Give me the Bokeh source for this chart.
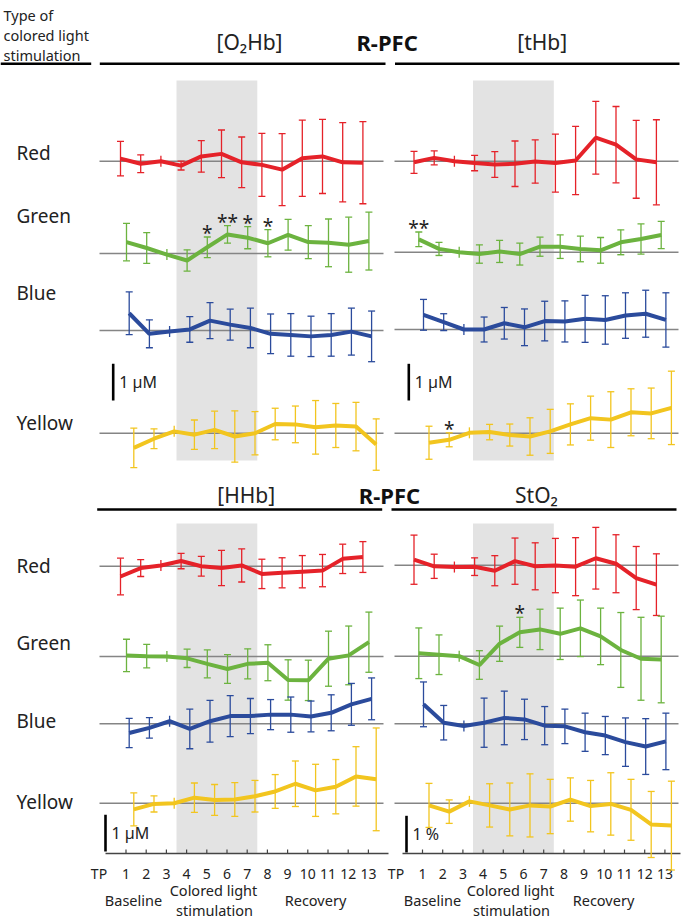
import numpy as np
from bokeh.plotting import figure
from bokeh.models import Range1d, ColumnDataSource, Whisker, TeeHead
from bokeh.core.properties import value
from bokeh.embed import file_html
from bokeh.resources import INLINE

# ---------------- data ----------------
tp = list(range(1, 14))
series_names = ["Red", "Green", "Blue", "Yellow"]
tick_labels = [str(t) for t in tp]

# [O2Hb] (uM)
o2hb_red = [0.07, -0.07, 0.00, -0.12, 0.13, 0.20, -0.03, -0.10, -0.23, 0.08, 0.13, -0.03, -0.04]
o2hb_red_se = [0.47, 0.24, 0.00, 0.12, 0.43, 0.65, 0.69, 0.86, 0.98, 1.04, 1.01, 1.08, 1.12]
o2hb_green = [0.31, 0.15, -0.03, -0.19, 0.17, 0.52, 0.43, 0.28, 0.51, 0.31, 0.29, 0.24, 0.34]
o2hb_green_se = [0.51, 0.42, 0.00, 0.29, 0.28, 0.24, 0.30, 0.37, 0.42, 0.45, 0.65, 0.75, 0.79]
o2hb_blue = [0.47, -0.09, -0.03, 0.03, 0.27, 0.16, 0.07, -0.09, -0.12, -0.16, -0.12, -0.03, -0.16]
o2hb_blue_se = [0.58, 0.38, 0.00, 0.35, 0.49, 0.42, 0.54, 0.54, 0.58, 0.55, 0.58, 0.64, 0.69]
o2hb_yellow = [-0.40, -0.15, 0.05, -0.04, 0.09, -0.09, 0.00, 0.25, 0.24, 0.16, 0.21, 0.18, -0.31]
o2hb_yellow_se = [0.54, 0.27, 0.00, 0.40, 0.51, 0.70, 0.59, 0.43, 0.50, 0.73, 0.60, 0.66, 0.70]

# [tHb] (uM)
thb_red = [-0.03, 0.09, 0.00, -0.05, -0.09, -0.07, -0.01, -0.05, 0.02, 0.64, 0.45, 0.05, -0.03]
thb_red_se = [0.30, 0.19, 0.00, 0.21, 0.35, 0.62, 0.59, 0.79, 0.93, 0.99, 1.04, 1.06, 1.16]
thb_green = [0.35, 0.09, 0.00, -0.05, 0.02, -0.05, 0.15, 0.15, 0.09, 0.05, 0.27, 0.36, 0.47]
thb_green_se = [0.20, 0.18, 0.00, 0.25, 0.30, 0.30, 0.26, 0.32, 0.35, 0.35, 0.34, 0.41, 0.37]
thb_blue = [0.40, 0.20, 0.00, 0.00, 0.17, 0.06, 0.23, 0.22, 0.29, 0.26, 0.38, 0.43, 0.26]
thb_blue_se = [0.42, 0.23, 0.00, 0.34, 0.43, 0.50, 0.54, 0.56, 0.64, 0.66, 0.62, 0.64, 0.74]
thb_yellow = [-0.26, -0.18, 0.01, 0.03, -0.05, -0.09, 0.05, 0.24, 0.41, 0.37, 0.57, 0.54, 0.69]
thb_yellow_se = [0.45, 0.19, 0.00, 0.21, 0.30, 0.51, 0.60, 0.56, 0.60, 0.76, 0.64, 0.69, 1.00]

# [HHb] (uM)
hhb_red = [-0.28, -0.05, 0.02, 0.14, 0.00, -0.05, 0.02, -0.21, -0.18, -0.15, -0.12, 0.20, 0.25]
hhb_red_se = [0.50, 0.23, 0.00, 0.21, 0.27, 0.48, 0.45, 0.40, 0.41, 0.44, 0.44, 0.40, 0.42]
hhb_green = [0.03, 0.01, 0.00, -0.05, -0.20, -0.34, -0.20, -0.17, -0.64, -0.65, -0.06, 0.03, 0.39]
hhb_green_se = [0.44, 0.32, 0.00, 0.25, 0.38, 0.39, 0.41, 0.49, 0.55, 0.55, 0.75, 0.80, 0.82]
hhb_blue = [-0.25, -0.11, 0.07, -0.14, 0.07, 0.21, 0.21, 0.25, 0.25, 0.20, 0.30, 0.53, 0.68]
hhb_blue_se = [0.40, 0.28, 0.00, 0.54, 0.57, 0.56, 0.48, 0.41, 0.48, 0.42, 0.49, 0.57, 0.57]
hhb_yellow = [-0.17, -0.02, 0.00, 0.15, 0.09, 0.10, 0.19, 0.32, 0.53, 0.35, 0.45, 0.73, 0.65]
hhb_yellow_se = [0.45, 0.22, 0.00, 0.40, 0.42, 0.46, 0.43, 0.46, 0.62, 0.71, 0.74, 0.81, 1.40]

# StO2 (%)
sto2_red = [0.15, -0.03, -0.05, -0.04, -0.15, 0.11, -0.03, -0.01, -0.04, 0.19, 0.04, -0.35, -0.53]
sto2_red_se = [0.67, 0.33, 0.00, 0.24, 0.41, 0.63, 0.64, 0.74, 0.79, 0.84, 0.79, 0.86, 0.84]
sto2_green = [0.08, 0.04, 0.00, -0.24, 0.34, 0.65, 0.73, 0.61, 0.76, 0.54, 0.17, -0.07, -0.09]
sto2_green_se = [0.69, 0.54, 0.00, 0.39, 0.48, 0.41, 0.55, 0.70, 0.77, 0.77, 1.02, 1.13, 1.18]
sto2_blue = [0.53, 0.03, -0.06, 0.03, 0.16, 0.12, -0.05, -0.07, -0.23, -0.32, -0.50, -0.62, -0.48]
sto2_blue_se = [0.61, 0.47, 0.00, 0.67, 0.73, 0.55, 0.52, 0.47, 0.52, 0.52, 0.66, 0.76, 0.77]
sto2_yellow = [-0.06, -0.23, 0.05, -0.06, -0.17, -0.06, -0.09, 0.10, -0.08, -0.02, -0.18, -0.58, -0.61]
sto2_yellow_se = [0.60, 0.32, 0.00, 0.59, 0.72, 0.86, 0.74, 0.59, 0.70, 0.85, 0.83, 0.90, 1.21]

# significance marks: (panel, series, time point, label)
sig_panel = ["O2Hb", "O2Hb", "O2Hb", "O2Hb", "tHb", "tHb", "StO2"]
sig_series = ["Green", "Green", "Green", "Green", "Green", "Yellow", "Green"]
sig_tp = [5, 6, 7, 8, 1, 2, 6]
sig_text = ["*", "**", "*", "*", "**", "*", "*"]

panel_titles = ["[O₂Hb]", "[tHb]", "[HHb]", "StO₂"]
scale_labels = ["1 µM", "1 µM", "1 µM", "1 %"]
phase_labels = ["Baseline", "Colored light", "stimulation", "Recovery"]

# ---------------- layout / style ----------------
W, H = 685, 922
OX, OY = 0, 0
PX_PER_TP = 20.2
PX_PER_UNIT = 36.7
FONT = value("Noto Sans")
colors = {"Red": "#e52229", "Green": "#6cb33f", "Blue": "#2b4b9c", "Yellow": "#f2c51f"}

panels = ["O2Hb", "tHb", "HHb", "StO2"]
panel_row = [0, 0, 1, 1]
panel_col = [0, 1, 0, 1]
axis_tp1_px = [125.5, 422.0]
series_tp1_px = [[120.0, 126.0, 128.7, 133.3], [413.5, 418.3, 423.0, 428.5]]
zero_px = {
    "O2Hb": [160.7, 253.0, 330.0, 432.7],
    "tHb": [160.7, 251.7, 329.0, 432.7],
    "HHb": [565.7, 656.0, 723.3, 802.7],
    "StO2": [564.7, 655.7, 723.3, 802.7],
}
zero_line_x = [(99, 383), (394, 678)]
band_y = [(80, 460), (523, 853)]
bar_x = {"O2Hb": 112.7, "tHb": 408.3, "HHb": 105.0, "StO2": 406.0}
bar_zero_px = {"O2Hb": 400.0, "tHb": 400.0, "HHb": 851.0, "StO2": 852.0}
AX_Y = 853
axis_x = [(105, 388), (402, 680)]

data = {
    ("O2Hb", "Red"): (o2hb_red, o2hb_red_se), ("O2Hb", "Green"): (o2hb_green, o2hb_green_se),
    ("O2Hb", "Blue"): (o2hb_blue, o2hb_blue_se), ("O2Hb", "Yellow"): (o2hb_yellow, o2hb_yellow_se),
    ("tHb", "Red"): (thb_red, thb_red_se), ("tHb", "Green"): (thb_green, thb_green_se),
    ("tHb", "Blue"): (thb_blue, thb_blue_se), ("tHb", "Yellow"): (thb_yellow, thb_yellow_se),
    ("HHb", "Red"): (hhb_red, hhb_red_se), ("HHb", "Green"): (hhb_green, hhb_green_se),
    ("HHb", "Blue"): (hhb_blue, hhb_blue_se), ("HHb", "Yellow"): (hhb_yellow, hhb_yellow_se),
    ("StO2", "Red"): (sto2_red, sto2_red_se), ("StO2", "Green"): (sto2_green, sto2_green_se),
    ("StO2", "Blue"): (sto2_blue, sto2_blue_se), ("StO2", "Yellow"): (sto2_yellow, sto2_yellow_se),
}


def x_range_for(tp1_px):
    start = 1 - (tp1_px - OX) / PX_PER_TP
    return Range1d(start, start + W / PX_PER_TP)


def y_range_for(zpx):
    return Range1d(-(OY + H - zpx) / PX_PER_UNIT, (zpx - OY) / PX_PER_UNIT)


p = figure(width=W, height=H, x_range=Range1d(OX, OX + W), y_range=Range1d(OY + H, OY),
           output_backend="svg", toolbar_location=None, min_border=0,
           x_axis_location=None, y_axis_location=None, outline_line_color=None,
           background_fill_color="white", border_fill_color="white")
p.xgrid.visible = False
p.ygrid.visible = False

xr = {}
yr = {}
for c in range(2):
    xr[f"ax{c}"] = x_range_for(axis_tp1_px[c])
    for si, s in enumerate(series_names):
        xr[f"x{c}_{s}"] = x_range_for(series_tp1_px[c][si])
for pn in panels:
    for si, s in enumerate(series_names):
        yr[f"y_{pn}_{s}"] = y_range_for(zero_px[pn][si])
    yr[f"bar_{pn}"] = y_range_for(bar_zero_px[pn])
p.extra_x_ranges = xr
p.extra_y_ranges = yr

# stimulation bands (lowest level, under the error bars)
for r in range(2):
    for c in range(2):
        p.quad(left=[3.5], right=[7.5], top=[band_y[r][0]], bottom=[band_y[r][1]],
               x_range_name=f"ax{c}", fill_color="#e3e3e3", line_color=None, level="image")

# zero lines, error bars, series
for pi, pn in enumerate(panels):
    c = panel_col[pi]
    for si, s in enumerate(series_names):
        m, se = data[(pn, s)]
        col = colors[s]
        yname = f"y_{pn}_{s}"
        xname = f"x{c}_{s}"
        p.segment(x0=[zero_line_x[c][0]], x1=[zero_line_x[c][1]], y0=[0], y1=[0],
                  y_range_name=yname, line_color="#858585", line_width=1.6, level="underlay")
        xs = [t for t, e in zip(tp, se) if e > 0]
        up = [v + e for v, e in zip(m, se) if e > 0]
        lo = [v - e for v, e in zip(m, se) if e > 0]
        src = ColumnDataSource(dict(x=xs, upper=up, lower=lo))
        w = Whisker(source=src, base="x", upper="upper", lower="lower", dimension="height",
                    line_color=col, line_width=1.3, level="glyph",
                    upper_head=TeeHead(size=7, line_color=col, line_width=1.3),
                    lower_head=TeeHead(size=7, line_color=col, line_width=1.3),
                    x_range_name=xname, y_range_name=yname)
        p.add_layout(w)
        zx = [t for t, e in zip(tp, se) if e == 0]
        zy = [v for v, e in zip(m, se) if e == 0]
        p.scatter(zx, zy, marker="dash", angle=np.pi / 2, size=11, line_color=col,
                  line_width=1.3, x_range_name=xname, y_range_name=yname)
        p.line(tp, m, line_color=col, line_width=4, x_range_name=xname, y_range_name=yname)

# significance stars
for pn, s, t, lab in zip(sig_panel, sig_series, sig_tp, sig_text):
    c = panel_col[panels.index(pn)]
    m, se = data[(pn, s)]
    i = tp.index(t)
    p.text(x=[t], y=[m[i] + se[i]], text=[lab], x_range_name=f"x{c}_{s}", y_range_name=f"y_{pn}_{s}",
           text_align="center", text_baseline="alphabetic", y_offset=-4,
           text_font=FONT, text_font_size="19px", text_color="#222222")

# scale bars
for pi, pn in enumerate(panels):
    p.segment(x0=[bar_x[pn]], x1=[bar_x[pn]], y0=[0], y1=[1], y_range_name=f"bar_{pn}",
              line_color="black", line_width=2.6)
    p.text(x=[bar_x[pn] + 6], y=[0.5], text=[scale_labels[pi]], y_range_name=f"bar_{pn}",
           text_align="left", text_baseline="middle", text_font=FONT, text_font_size="16px",
           text_color="#222222")

# header lines and titles
p.segment(x0=[0, 99.3, 394.5, 96.7, 391.0], x1=[90.7, 385.0, 679.0, 381.7, 676.0],
          y0=[63.3, 63.3, 63.3, 509.0, 509.0], y1=[63.3, 63.3, 63.3, 509.0, 509.0],
          line_color="black", line_width=2.6)
p.text(x=[3, 3, 3], y=[14, 34, 54], text=["Type of", "colored light", "stimulation"],
       text_align="left", text_baseline="alphabetic", text_font=FONT, text_font_size="14.5px",
       text_color="#222222")
p.text(x=[249, 541.7, 245.7, 536], y=[41, 41, 494, 494], text=panel_titles,
       text_align="center", text_baseline="middle", text_font=FONT, text_font_size="21px",
       text_color="#222222")
p.text(x=[386.6, 389], y=[41, 494], text=["R-PFC", "R-PFC"], text_align="center",
       text_baseline="middle", text_font=FONT, text_font_size="22px", text_font_style="bold",
       text_color="#111111")

# row labels
p.text(x=[16] * 8, y=[152, 215, 292, 422, 565, 642, 720, 801], text=series_names * 2,
       text_align="left", text_baseline="middle", text_font=FONT, text_font_size="19px",
       text_color="#222222")

# time axes
for c in range(2):
    p.segment(x0=[axis_x[c][0]], x1=[axis_x[c][1]], y0=[AX_Y], y1=[AX_Y],
              line_color="#444444", line_width=1.3)
    p.segment(x0=tp, x1=tp, y0=[AX_Y] * 13, y1=[AX_Y - 4] * 13, x_range_name=f"ax{c}",
              line_color="#444444", line_width=1.2)
    p.text(x=tp, y=[AX_Y + 20] * 13, text=tick_labels, x_range_name=f"ax{c}",
           text_align="center", text_baseline="alphabetic", text_font=FONT,
           text_font_size="14px", text_color="#222222")
p.text(x=[98.5, 395.5], y=[AX_Y + 20] * 2, text=["TP", "TP"], text_align="center",
       text_baseline="alphabetic", text_font=FONT, text_font_size="14px", text_color="#222222")
p.text(x=[133, 213, 214, 315, 432, 510, 511, 603],
       y=[899, 889, 909, 899, 899, 889, 909, 899],
       text=phase_labels * 2, text_align="center", text_baseline="alphabetic",
       text_font=FONT, text_font_size="14.5px", text_color="#222222")

open("out.html", "w").write(file_html(p, INLINE))
